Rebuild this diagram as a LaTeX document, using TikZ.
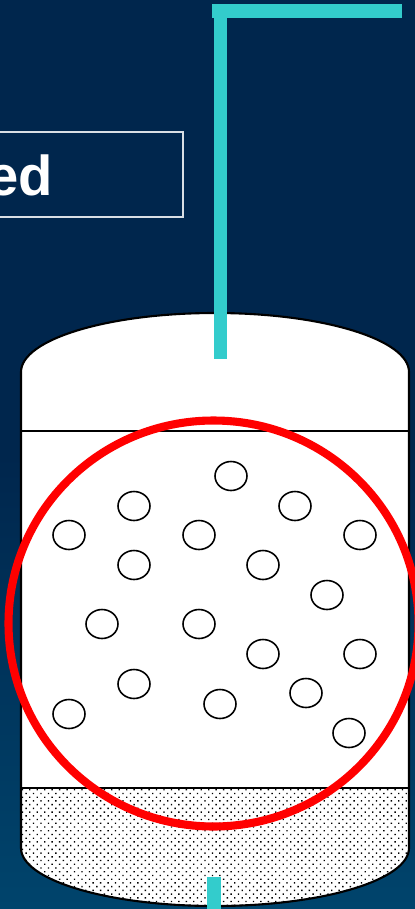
\documentclass[tikz,border=0pt]{standalone}
\usepackage{fontspec}
\setmainfont{Liberation Sans}
\usetikzlibrary{patterns.meta,shapes.geometric}
\definecolor{bgtop}{RGB}{0,38,77}
\definecolor{bgbottom}{RGB}{0,68,108}
\definecolor{pipeteal}{RGB}{51,204,204}
\begin{document}
\begin{tikzpicture}[
    x=0.02cm, y=-0.02cm,
    wall/.style={draw=black, line width=1.2pt},
    pipe/.style={fill=pipeteal},
    bubble/.style={ellipse, draw=black, fill=white, line width=0.9pt, minimum width=0.64cm, minimum height=0.58cm, inner sep=0pt}
]
    % Page frame and background
    \clip (0,0) rectangle (415,909);
    \shade[top color=bgtop, bottom color=bgbottom, middle color=bgtop, shading angle=0] (0,0) rectangle (415,909);

    % Label box, cut by the left edge
    \draw[white!85!bgtop, line width=0.7pt] (-20,132) rectangle (183,217);
    \node[font=\bfseries\fontsize{32}{32}\selectfont, text=white, anchor=base east, inner sep=0pt] (labeltext) at (53.5,195.5) {ed};

    % Vessel body
    \fill[white] (21,372) arc[start angle=180, end angle=0, x radius=194, y radius=-59]
        -- (409,848) arc[start angle=0, end angle=-180, x radius=194, y radius=-58] -- cycle;

    % Settled layer
    \fill[pattern={Dots[distance=3pt, radius=0.55pt, angle=45]}, pattern color=black] (21,788) -- (409,788) -- (409,848) arc[start angle=0, end angle=-180, x radius=194, y radius=-58] -- cycle;

    % Outline and levels
    \draw[wall] (21,372) arc[start angle=180, end angle=0, x radius=194, y radius=-59]
        -- (409,848) arc[start angle=0, end angle=-180, x radius=194, y radius=-58] -- cycle;
    \draw[wall] (21,431) -- (409,431);
    \draw[wall] (21,788) -- (409,788);

    % Bubbles
    \foreach \i/\bx/\by in {1/231/476, 2/134/506, 3/295/506, 4/69/535, 5/199/535, 6/360/535,
        7/134/565, 8/263/565, 9/327/595, 10/102/624, 11/199/624, 12/263/654, 13/360/654,
        14/134/684, 15/306/693, 16/220/704, 17/69/714, 18/349/733}
        \node[bubble] (bubble\i) at (\bx,\by) {};

    % Pipes
    \fill[pipe] (214,18) rectangle (227,359);
    \fill[pipe] (212,4.5) rectangle (402,18);
    \fill[pipe] (207,877) rectangle (221,909);

    % Red ring
    \draw[red, line width=4.6pt] (213.5,623.5) ellipse[x radius=205, y radius=203];
\end{tikzpicture}
\end{document}
